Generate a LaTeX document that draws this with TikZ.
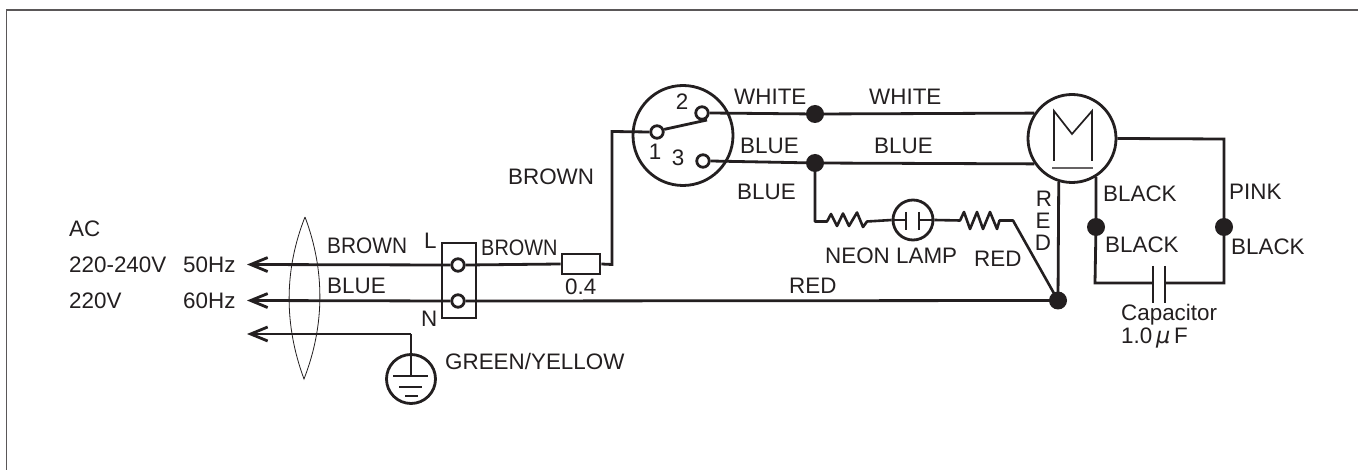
\documentclass[tikz,border=0pt]{standalone}
\usepackage{fontspec}
\setmainfont{Liberation Sans}
\usetikzlibrary{arrows.meta}
\definecolor{ink}{HTML}{231F20}
\tikzset{
 wire/.style={draw=ink,line width=2.8pt,line join=miter},
 zig/.style={wire,line width=2.6pt,line join=round},
 term/.style={circle,draw=ink,fill=white,line width=2.8pt,minimum size=12.5pt,inner sep=0pt},
 jdot/.style={circle,fill=ink,minimum size=18pt,inner sep=0pt},
 bigc/.style={circle,draw=ink,fill=white,line width=2.8pt,inner sep=0pt},
 lbl/.style={inner sep=0pt,anchor=west,text=ink,font=\fontsize{22.4}{24}\selectfont},
 arr/.style={wire,-{Straight Barb[length=17pt,width=14pt,line width=2.8pt]}},
}
\newcommand{\cond}[1]{\scalebox{0.93}[1]{#1}}
\begin{document}
\begin{tikzpicture}[x=1pt,y=-1pt]
\useasboundingbox (0,0) rectangle (1358,470);
\fill[white] (0,0) rectangle (1358,470);
\draw[ink!75,line width=1.8pt] (6.5,470) -- (6.5,10) -- (1358,10);
% big circles
\node[bigc,minimum size=100pt] (sw) at (683,135.5) {};
\node[bigc,minimum size=88pt] (mot) at (1072,138.5) {};
\node[bigc,minimum size=49pt] (gnd) at (411,379) {};
\node[bigc,minimum size=40pt] (neon) at (913,220) {};
% coordinates
\coordinate (a1) at (247,264.5);
\coordinate (a2) at (247,300.5);
\coordinate (a3) at (247,334);
\coordinate (gc) at (411,334);
\coordinate (gb) at (411,376);
\coordinate (sc) at (612,131.5);
\coordinate (sd) at (612,264.5);
\node[jdot] (dw) at (815,114) {};
\node[jdot] (db) at (815,163) {};
\node[jdot] (dr) at (1058,300.5) {};
\node[jdot] (dbl) at (1096,227) {};
\node[jdot] (dpk) at (1224,227) {};
\node[draw=ink,fill=white,line width=2.8pt,minimum width=38pt,minimum height=20pt,inner sep=0pt] (fuse) at (581,264) {};
% terminal block
\coordinate (tbtl) at (442,243);
\coordinate (tbbr) at (476,318);
\draw[wire] (tbtl) rectangle (tbbr);
\node[term] (t1) at (458,265) {};
\node[term] (t2) at (458,301) {};
\node[term] (s1) at (657,132) {};
\node[term] (s2) at (702,113) {};
\node[term] (s3) at (703,161) {};
% connectors
\draw[arr] (t1.west) -- (a1);
\draw[arr] (t2.west) -- (a2);
\draw[arr] (gc) -- (a3);
\draw[wire] (gc) -- (gb);
\draw[wire] (t1.east) -- (fuse.west);
\draw[wire] (fuse.east) -- (sd) -- (sc) -- (s1.west);
\draw[wire] (t2.east) -- (dr.center);
\draw[wire] (s1.20) -- (707,120);
\draw[wire] (s2.east) -- (dw.center) -- (mot.146);
\draw[wire] (s3.east) -- (db.center) -- (mot.214);
\draw[wire] (mot.253) -- (dr.center);
\draw[wire] (mot.302) -- (dbl.center) -- (1095,283) -- (1153,283);
\draw[wire] (mot.east) -- (1224,139) -- (dpk.center) -- (1224,283) -- (1165,283);
% capacitor
\draw[wire] (1153,266) -- (1153,303);
\draw[wire] (1165,266) -- (1165,303);
% neon branch
\draw[zig] (db.center) -- (815,221.5) -- (827,221.5) -- (831,214) -- (837,226) -- (843,213.5) -- (849,226) -- (857,212.5) -- (863,227) -- (867,221.5) -- (neon.west);
\draw[zig] (neon.east) -- (960,220.5) -- (964,212) -- (970,229) -- (977,212) -- (983,229) -- (990,212) -- (997,229) -- (999.5,220.5) -- (1013,220.5) -- (dr.center);
\draw[wire] (906,212) -- (906,230);
\draw[wire] (919,212) -- (919,230);
\draw[wire] (neon.west) -- (906,220);
\draw[wire] (919,220) -- (neon.east);
% motor M
\draw[draw=ink,line width=1.7pt,line join=miter] (1054,161) -- (1054,111) -- (1072,134) -- (1092,111) -- (1092,161);
\draw[draw=ink!70,line width=1.4pt] (1052,168) -- (1093,168);
% ground
\draw[wire] (gnd.north) -- (gb);
\draw[wire] (393,376) -- (428,376);
\draw[wire] (399,387) -- (422,387);
\draw[wire] (405,396) -- (418,396);
% lens
\draw[ink,line width=0.8pt] (305,217) .. controls (284,270) and (284,325) .. (304,379) .. controls (325,325) and (325,270) .. (305,217);
% labels
\node[lbl] (l1) at (69,229) {AC};
\node[lbl] (l2) at (69,265) {220-240V};
\node[lbl] (l3) at (183,265) {50Hz};
\node[lbl] (l4) at (69,301) {220V};
\node[lbl] (l5) at (183,301) {60Hz};
\node[lbl] (l6) at (327,246) {\cond{BROWN}};
\node[lbl] (l7) at (424,241) {L};
\node[lbl] (l8) at (481,248) {\scalebox{0.89}[1]{BROWN}};
\node[lbl] (l9) at (327,286) {BLUE};
\node[lbl] (l10) at (421,319) {N};
\node[lbl] (l11) at (565,287) {0.4};
\node[lbl] (l12) at (508,177) {BROWN};
\node[lbl] (l13) at (445,361) {GREEN/YELLOW};
\node[lbl] (l14) at (734,97) {WHITE};
\node[lbl] (l15) at (869,97) {WHITE};
\node[lbl] (l16) at (740,146) {BLUE};
\node[lbl] (l17) at (874,146) {BLUE};
\node[lbl] (l18) at (737,192) {BLUE};
\node[lbl] (l19) at (825,256) {NEON LAMP};
\node[lbl] (l20) at (974,259) {RED};
\node[lbl] (l21) at (789,286) {RED};
\node[lbl,anchor=center] (l22) at (1044,199) {R};
\node[lbl,anchor=center] (l23) at (1043,221) {E};
\node[lbl,anchor=center] (l24) at (1043,243) {D};
\node[lbl] (l25) at (1103,194) {BLACK};
\node[lbl] (l26) at (1105,245) {BLACK};
\node[lbl] (l27) at (1229,192) {PINK};
\node[lbl] (l28) at (1231,247) {BLACK};
\node[lbl] (l29) at (1121,315) {Capacitor};
\node[lbl] (l30) at (1121,338) {1.0\,{\fontspec{DejaVu Sans}\itshape µ}\,F};
\node[lbl,anchor=center] (l31) at (655,152) {1};
\node[lbl,anchor=center] (l32) at (682,102) {2};
\node[lbl,anchor=center] (l33) at (678,158) {3};
\end{tikzpicture}
\end{document}
